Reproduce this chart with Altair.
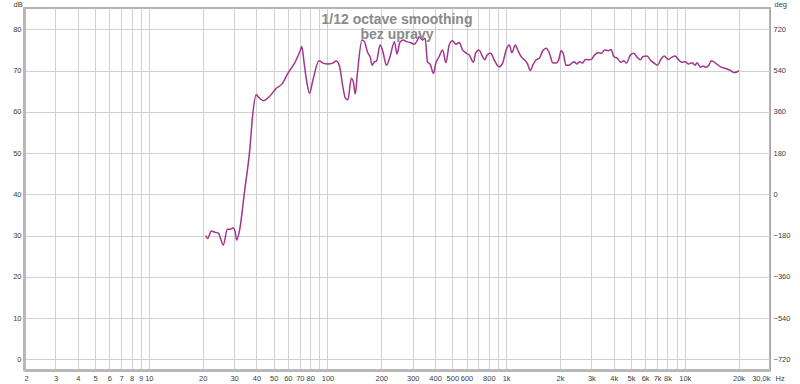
import altair as alt
import pandas as pd

# Frequency response (Hz, dB)
freq = [20.8, 21.3, 22.4, 23.4, 24.6, 25.2, 26.1, 27.5, 28.5, 29.6, 30.4, 31.0, 32.2,
        34.4, 36.7, 38.2, 39.9, 41.6, 43.9, 47.3, 51.7, 55.5, 60.0, 65.4, 70.6, 71.8,
        74.0, 76.8, 79.3, 82.9, 89.5, 94.4, 100.5, 107, 112, 117, 121, 126, 130, 136,
        140, 143, 147, 156, 161, 168, 173, 178, 183, 188, 197, 203, 214, 224, 237, 245,
        254, 265, 277, 290, 306, 319, 326, 340, 352, 363, 376, 392, 404, 422, 441, 460,
        480, 501, 523, 546, 570, 595, 620, 657, 675, 705, 730, 759, 784, 819, 857, 914,
        956, 1000, 1043, 1077, 1125, 1160, 1213, 1266, 1311, 1368, 1410, 1473, 1536,
        1604, 1676, 1747, 1822, 1904, 1970, 2030, 2098, 2160, 2254, 2350, 2410, 2480,
        2586, 2665, 2786, 2905, 3000, 3131, 3269, 3410, 3560, 3720, 3867, 4006, 4181,
        4398, 4554, 4716, 4966, 5183, 5409, 5650, 5840, 6140, 6460, 6830, 7030, 7330,
        7660, 8090, 8440, 8820, 9200, 9610, 10050, 10500, 10960, 11450, 11700, 12260,
        12680, 13060, 13650, 14060, 14880, 15850, 16920, 18050, 18850, 19690, 20100]
spl = [30.0, 29.3, 31.1, 30.8, 30.5, 29.3, 27.7, 31.5, 31.5, 31.8, 30.9, 28.9, 31.3,
       41.0, 50.7, 59.6, 64.1, 63.3, 62.7, 63.7, 65.7, 66.7, 69.3, 71.8, 75.0, 75.8,
       71.8, 66.9, 64.5, 67.7, 72.4, 71.8, 71.6, 71.8, 72.3, 70.9, 66.9, 63.3, 62.9, 68.1,
       66.9, 64.3, 69.3, 77.4, 77.0, 74.3, 73.4, 71.3, 72.1, 72.3, 76.2, 75.0, 71.3, 73.4, 77.0, 74.0,
       76.8, 77.4, 77.0, 76.8, 76.4, 77.4, 78.2, 77.4, 77.8, 72.1, 71.5, 69.3, 71.8, 73.4, 75.0, 71.9,
       76.2, 77.2, 76.4, 76.8, 75.0, 74.3, 73.8, 72.0, 74.3, 75.0, 73.8, 72.6, 73.8, 74.2, 72.6, 70.9,
       71.8, 75.0, 76.2, 74.3, 76.2, 75.0, 73.4, 72.6, 71.8, 70.0, 71.3, 72.6, 73.0,
       74.8, 75.4, 74.2, 71.9, 71.8, 72.6, 74.8, 73.8, 71.3, 71.3, 71.9, 72.1, 71.6,
       72.1, 71.8, 72.7, 72.6, 72.7, 73.8, 74.3, 74.2, 75.0, 74.8, 75.1, 73.4, 73.0,
       72.0, 72.4, 71.8, 73.8, 74.2, 73.2, 72.6, 73.4, 73.5, 72.4, 71.6, 71.3, 72.6,
       73.5, 72.7, 73.2, 73.5, 72.7, 72.0, 72.1, 71.6, 71.9, 71.3, 71.9, 70.8,
       71.1, 70.8, 71.3, 72.4, 71.8, 70.9, 70.5, 70.0, 69.5, 69.7, 70.0]

x_ticks = [2, 3, 4, 5, 6, 7, 8, 9, 10, 20, 30, 40, 50, 60, 70, 80, 90,
           100, 200, 300, 400, 500, 600, 700, 800, 900,
           1000, 2000, 3000, 4000, 5000, 6000, 7000, 8000, 9000,
           10000, 20000, 30000]
x_labels = ["2", "3", "4", "5", "6", "7", "8", "9", "10", "20", "30", "40", "50", "60", "70", "80", "",
            "100", "200", "300", "400", "500", "600", "", "800", "",
            "1k", "2k", "3k", "4k", "5k", "6k", "7k", "8k", "",
            "10k", "20k", "30,0k"]
db_ticks = [0, 10, 20, 30, 40, 50, 60, 70, 80]
deg_ticks = [-720, -540, -360, -180, 0, 180, 360, 540, 720]

db_domain = [-2.6, 85.16]
deg_domain = [(d - 40) * 18 for d in db_domain]

df = pd.DataFrame({"freq": freq, "spl": spl})
df_deg = pd.DataFrame({"deg": deg_ticks})

label_expr = ("[" + ",".join("'" + l + "'" for l in x_labels) + "][indexof(["
              + ",".join(str(v) for v in x_ticks) + "], datum.value)]")

FONT = "Liberation Sans"
FS = 7.5
LBL = "#3c3c3c"

line = alt.Chart(df).mark_line(color="#a1378d", strokeWidth=1.5, interpolate="monotone").encode(
    x=alt.X("freq:Q",
            scale=alt.Scale(type="log", domain=[2, 30000], nice=False),
            axis=alt.Axis(values=x_ticks, labelExpr=label_expr, grid=True, gridColor="#d0d0d0",
                          gridWidth=1, tickSize=0, labelPadding=4, labelFontSize=FS, labelFont=FONT,
                          labelColor=LBL, domainColor="#b8b8b8", domainWidth=3, labelFlush=True,
                          title="Hz", titleFont=FONT, titleFontSize=FS, titleFontWeight="normal",
                          titleColor=LBL, titleAnchor="end", titleAlign="left", titleBaseline="top",
                          titleX=751, titleY=4, labelOverlap=False)),
    y=alt.Y("spl:Q",
            scale=alt.Scale(domain=db_domain, nice=False, zero=False),
            axis=alt.Axis(values=db_ticks, grid=True, gridColor="#d0d0d0", gridWidth=1, tickSize=0,
                          labelPadding=3, labelFontSize=FS, labelFont=FONT, labelColor=LBL,
                          domainColor="#b8b8b8", domainWidth=3,
                          title="dB", titleFont=FONT, titleFontSize=FS, titleFontWeight="normal",
                          titleColor=LBL, titleAngle=0, titleAlign="left", titleBaseline="bottom",
                          titleX=-11, titleY=0)),
)

right = alt.Chart(df_deg).mark_point(opacity=0).encode(
    y=alt.Y("deg:Q",
            scale=alt.Scale(domain=deg_domain, nice=False, zero=False),
            axis=alt.Axis(orient="right", values=deg_ticks, grid=False, tickSize=0, labelPadding=3,
                          labelFontSize=FS, labelFont=FONT, labelColor=LBL, domainColor="#a8a8a8",
                          domainWidth=1,
                          title="deg", titleFont=FONT, titleFontSize=FS, titleFontWeight="normal",
                          titleColor=LBL, titleAngle=0, titleAlign="left", titleBaseline="bottom",
                          titleX=4, titleY=0)),
)

chart = alt.layer(line, right).resolve_scale(y="independent").properties(
    width=746, height=362,
    autosize=alt.AutoSizeParams(type="none"),
    padding={"left": 24, "top": 8, "right": 30, "bottom": 14},
    title=alt.TitleParams(["1/12 octave smoothing", "bez upravy"], font="Liberation Sans",
                          fontSize=14, fontWeight="bold", color="#8a8a8a", anchor="middle",
                          frame="group", lineHeight=15, baseline="top", offset=0, dy=42),
).configure_view(stroke="#b4b4b4", strokeWidth=2)

chart.save("out.html", embed_options={"renderer": "svg", "actions": False})
